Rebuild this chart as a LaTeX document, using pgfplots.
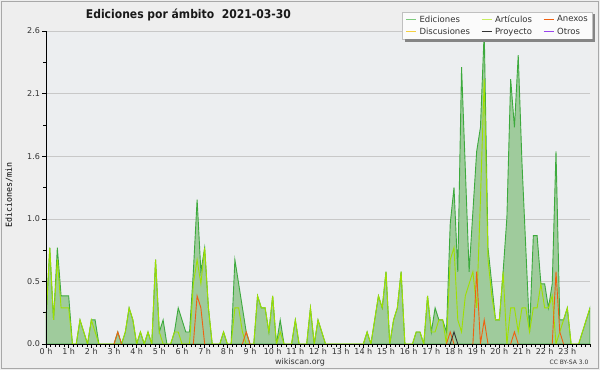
\documentclass[border=0pt]{standalone}
\usepackage{fontspec}
\setmainfont{DejaVu Sans}
\setmonofont{DejaVu Sans Mono}
\newfontfamily\titlefont[FakeStretch=0.9]{DejaVu Sans}
\usepackage{pgfplots}
\usepackage{pgfplotstable}
\pgfplotsset{compat=1.18}
\definecolor{outerbg}{HTML}{EEEEEE}
\definecolor{plotbg}{HTML}{ECEEF0}
\definecolor{framec}{HTML}{A8A8A8}
\definecolor{gridc}{HTML}{C8C8C8}
\definecolor{fillc}{HTML}{9FCB9C}
\definecolor{totalc}{HTML}{3DAA3D}
\definecolor{artc}{HTML}{9FE000}
\definecolor{anexc}{HTML}{F06010}
\definecolor{proyc}{HTML}{333333}
\definecolor{discc}{HTML}{F5D040}
\definecolor{otrosc}{HTML}{9944EE}
\definecolor{legE}{HTML}{7DCB7D}
\definecolor{legA}{HTML}{C8EE60}
\definecolor{legbg}{HTML}{FBFBFB}
\definecolor{legborder}{HTML}{C0C0C0}
\definecolor{shadowc}{HTML}{858585}
\definecolor{ticktext}{HTML}{333333}

\pgfplotstableread{
k E A
0 0.2 0.2
1 0.8 0.8
2 0.2 0.2
3 0.8 0.7
4 0.4 0.3
5 0.4 0.3
6 0.4 0.3
7 0 0
8 0 0
9 0.2 0.2
10 0.1 0.1
11 0 0
12 0.2 0.2
13 0.2 0.1
14 0 0
15 0 0
16 0 0
17 0 0
18 0 0
19 0.1 0
20 0 0
21 0.1 0.1
22 0.3 0.3
23 0.2 0.2
24 0 0
25 0.1 0.1
26 0 0
27 0.1 0.1
28 0 0
29 0.7 0.7
30 0.1 0.1
31 0.2 0
32 0 0
33 0 0
34 0.1 0.1
35 0.3 0.1
36 0.2 0
37 0.1 0
38 0.1 0
39 0.6 0.5
40 1.2 0.7
41 0.6 0.5
42 0.8 0.8
43 0.3 0.3
44 0 0
45 0 0
46 0 0
47 0.1 0.1
48 0 0
49 0 0
50 0.7 0.3
51 0.5 0.3
52 0.3 0.1
53 0.1 0
54 0 0
55 0 0
56 0.4 0.4
57 0.3 0.3
58 0.3 0.3
59 0.1 0.1
60 0.4 0.4
61 0 0
62 0.2 0.1
63 0 0
64 0 0
65 0 0
66 0.2 0.2
67 0 0
68 0 0
69 0 0
70 0.3 0.3
71 0 0
72 0.2 0.2
73 0.1 0.1
74 0 0
75 0 0
76 0 0
77 0 0
78 0 0
79 0 0
80 0 0
81 0 0
82 0 0
83 0 0
84 0 0
85 0.1 0.1
86 0 0
87 0.2 0.2
88 0.4 0.4
89 0.3 0.3
90 0.6 0.6
91 0 0
92 0.2 0.2
93 0.3 0.3
94 0.6 0.6
95 0 0
96 0 0
97 0 0
98 0.1 0.1
99 0.1 0.1
100 0 0
101 0.4 0.4
102 0.1 0.1
103 0.3 0.1
104 0.2 0.2
105 0.2 0.2
106 0.1 0
107 1.0 0.7
108 1.3 0.8
109 0.6 0.2
110 2.3 0.1
111 1.45 0.4
112 0.6 0.5
113 1.1 0.6
114 1.6 0.3
115 1.8 1.2
116 2.6 2.2
117 0.8 0.7
118 0.5 0.4
119 0.2 0.2
120 0.2 0.2
121 0.6 0.6
122 1.05 0
123 2.2 0.3
124 1.8 0.3
125 2.4 0.1
126 1.5 0.3
127 0.8 0.3
128 0.1 0.1
129 0.9 0.3
130 0.9 0.3
131 0.5 0.5
132 0.5 0.3
133 0.3 0.3
134 0.5 0.4
135 1.6 0
136 0.2 0.1
137 0.2 0.2
138 0.3 0.3
139 0 0
140 0 0
141 0 0
142 0.1 0.1
143 0.2 0.2
144 0.3 0.3
}\datatable

\begin{document}
\begin{tikzpicture}
\fill[outerbg] (-46pt,-26pt) rectangle (554pt,344pt);
\draw[framec, line width=1pt] (-44.5pt,-24pt) rectangle (552.5pt,342.5pt);
\begin{axis}[
  at={(0pt,0pt)}, anchor=south west,
  scale only axis, width=544pt, height=313pt,
  xmin=0, xmax=144, ymin=0, ymax=2.6,
  axis background/.style={fill=plotbg},
  axis x line=bottom, axis y line=left,
  axis line style={-, black, line width=0.8pt},
  xtick={0,6,...,138},
  xticklabels={0 h,1 h,2 h,3 h,4 h,5 h,6 h,7 h,8 h,9 h,10 h,11 h,12 h,13 h,14 h,15 h,16 h,17 h,18 h,19 h,20 h,21 h,22 h,23 h},
  minor xtick={0,1.2,...,144},
  ytick={0,0.52,1.04,1.56,2.08,2.6},
  yticklabels={0.0,0.5,1.0,1.6,2.1,2.6},
  minor ytick={0.26,0.78,1.3,1.82,2.34},
  tick align=outside, major tick length=3.5pt, minor tick length=2.5pt,
  tick style={black, line width=0.6pt},
  ymajorgrids, grid style={gridc, line width=0.6pt},
  ticklabel style={font=\fontsize{8}{9}\selectfont, text=ticktext},
  xticklabel style={yshift=3pt},
  yticklabel style={xshift=1pt},
  legend columns=3,
  legend image code/.code={\draw[#1, line width=1pt] (0pt,0pt) -- (10pt,0pt);},
  legend style={name=leg, at={(1.0055,1.0617)}, anchor=north east, fill=legbg, draw=legborder,
    line width=0.5pt, font=\fontsize{8.5}{9}\selectfont, text=ticktext,
    inner xsep=3pt, inner ysep=1.5pt, row sep=0pt,
    /tikz/every odd column/.append style={column sep=1pt},
    /tikz/every even column/.append style={column sep=9pt}},
  legend cell align=left,
]
\addlegendimage{legE}
\addlegendentry{Ediciones}
\addlegendimage{legA}
\addlegendentry{Artículos}
\addlegendimage{anexc}
\addlegendentry{Anexos}
\addlegendimage{discc}
\addlegendentry{Discusiones}
\addlegendimage{proyc}
\addlegendentry{Proyecto}
\addlegendimage{otrosc}
\addlegendentry{Otros}

\addplot[forget plot, draw=totalc, line width=0.9pt, fill=fillc] table[x=k,y=E]{\datatable} \closedcycle;
\addplot[forget plot, draw=artc, line width=0.9pt] table[x=k,y=A]{\datatable};
\addplot[forget plot, draw=anexc, line width=0.9pt] coordinates {(18,0)(19,0.1)(20,0)};
\addplot[forget plot, draw=anexc, line width=0.9pt] coordinates {(39,0)(40,0.4)(41,0.3)(42,0)};
\addplot[forget plot, draw=anexc, line width=0.9pt] coordinates {(52,0)(53,0.1)(54,0)};
\addplot[forget plot, draw=anexc, line width=0.9pt] coordinates {(106,0)(107,0.1)(108,0)};
\addplot[forget plot, draw=anexc, line width=0.9pt] coordinates {(113,0)(114,0.6)(115,0)(116,0.2)(117,0)};
\addplot[forget plot, draw=anexc, line width=0.9pt] coordinates {(123,0)(124,0.1)(125,0)};
\addplot[forget plot, draw=anexc, line width=0.9pt] coordinates {(134,0)(135,0.6)(136,0.1)(137,0)};
\addplot[forget plot, draw=proyc, line width=0.9pt] coordinates {(107,0)(108,0.1)(109,0)};
\draw[black, line width=0.8pt] (axis cs:0,0) -- (axis cs:144,0);
\draw[black, line width=0.8pt] (axis cs:0,0) -- (axis cs:0,2.6);
\end{axis}
\fill[shadowc] ([yshift=-2.5pt]leg.north east) rectangle ([xshift=2.5pt,yshift=-2.5pt]leg.south east);
\fill[shadowc] ([xshift=2.5pt]leg.south west) rectangle ([xshift=2.5pt,yshift=-2.5pt]leg.south east);
\node[anchor=base, font=\titlefont\bfseries\fontsize{12}{14}\selectfont, text=black!90] at (142.4pt,325.7pt) {Ediciones por ámbito\ \ 2021-03-30};
\node[rotate=90, font=\ttfamily\fontsize{8.3}{9}\selectfont] at (-37pt,149pt) {Ediciones/min};
\node[font=\fontsize{8}{9}\selectfont, text=ticktext] at (254pt,-18pt) {wikiscan.org};
\node[font=\fontsize{6}{7}\selectfont, text=ticktext] at (523pt,-18.7pt) {CC BY-SA 3.0};
\pgfresetboundingbox
\path (-46pt,-26pt) rectangle (554pt,344pt);
\end{tikzpicture}
\end{document}
